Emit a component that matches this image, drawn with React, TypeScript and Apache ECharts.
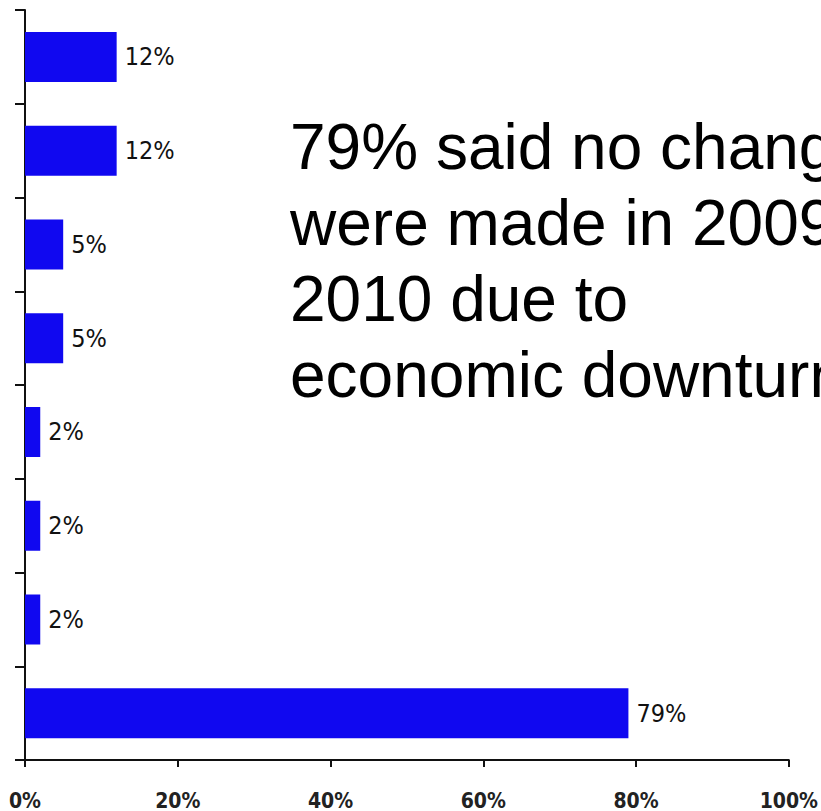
import React, { useEffect, useRef } from "react";
import * as echarts from "echarts";

const categories = ["Item 1", "Item 2", "Item 3", "Item 4", "Item 5", "Item 6", "Item 7", "Item 8"];
const values = [12, 12, 5, 5, 2, 2, 2, 79];
const xTicks = [0, 20, 40, 60, 80, 100];
const noteLines = ["79% said no change", "were made in 2009-", "2010 due to", "economic downturn"];

export default function App() {
  const ref = useRef<HTMLDivElement>(null);
  useEffect(() => {
    if (!ref.current) return;
    const chart = echarts.init(ref.current, undefined, { renderer: "svg" });
    const narrow = "'Liberation Sans Narrow', 'DejaVu Sans Condensed', sans-serif";
    chart.setOption({
      animation: false,
      backgroundColor: "#ffffff",
      grid: { left: 25, right: 30, top: 10, bottom: 47, containLabel: false },
      xAxis: {
        type: "value",
        min: xTicks[0],
        max: xTicks[xTicks.length - 1],
        interval: 20,
        axisLine: { show: true, lineStyle: { color: "#111", width: 2 } },
        axisTick: { show: true, length: 7, lineStyle: { color: "#111", width: 2 } },
        splitLine: { show: false },
        axisLabel: {
          formatter: "{value}%",
          fontFamily: narrow,
          fontSize: 21,
          fontWeight: "bold",
          color: "#222",
          margin: 30,
        },
      },
      yAxis: {
        type: "category",
        data: categories,
        inverse: true,
        axisLine: { show: true, lineStyle: { color: "#111", width: 2 } },
        axisTick: { show: true, length: 10, alignWithLabel: false, lineStyle: { color: "#111", width: 2 } },
        axisLabel: { show: false },
      },
      series: [
        {
          type: "bar",
          data: values,
          barWidth: 50,
          itemStyle: { color: "#1008F0" },
          label: {
            show: true,
            position: "right",
            distance: 8,
            formatter: "{c}%",
            fontFamily: narrow,
            fontSize: 25,
            color: "#111",
          },
        },
      ],
      graphic: [
        {
          type: "text",
          left: 290,
          top: 109,
          style: {
            text: noteLines.join("\n"),
            font: "64px 'Liberation Sans', Arial, sans-serif",
            lineHeight: 76,
            fill: "#000",
          },
        },
      ],
    });
    return () => chart.dispose();
  }, []);
  return (
    <div
      ref={ref}
      style={{ position: "fixed", left: 0, top: 0, width: 821, height: 811 }}
    />
  );
}
